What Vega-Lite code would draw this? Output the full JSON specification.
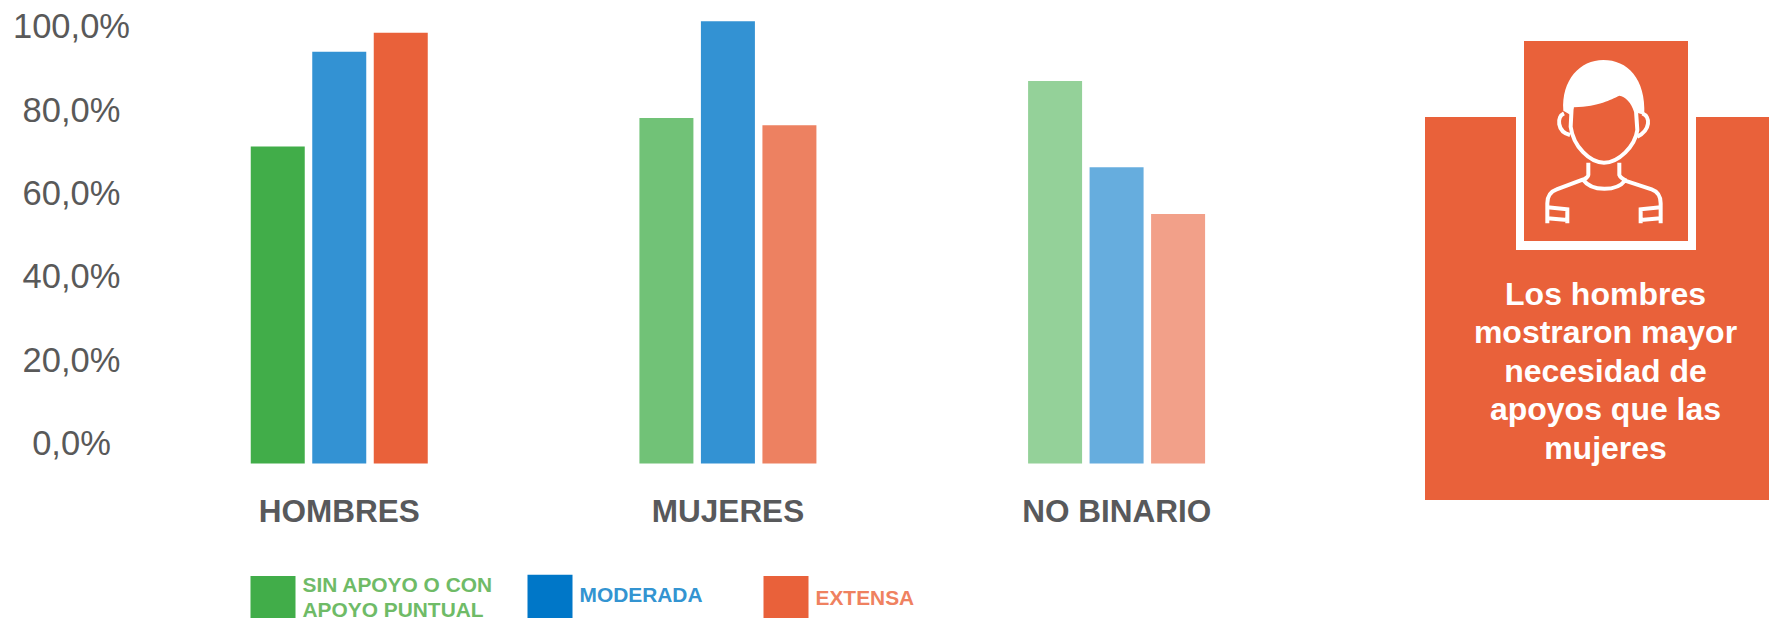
{
  "$schema": "https://vega.github.io/schema/vega-lite/v6.json",
  "width": 1769,
  "height": 618,
  "autosize": {"type": "none"},
  "padding": 0,
  "background": "white",
  "config": {"font": "Liberation Sans", "view": {"stroke": null}},
  "resolve": {"scale": {"y": "independent"}},
  "layer": [
    {
      "data": {"values": [{"valor": 0}, {"valor": 20}, {"valor": 40}, {"valor": 60}, {"valor": 80}, {"valor": 100}]},
      "mark": {"type": "rule", "opacity": 0},
      "encoding": {
        "y": {
          "field": "valor",
          "type": "quantitative",
          "scale": {"domain": [-41.66, 106.7], "nice": false, "zero": false},
          "axis": {
            "title": null,
            "orient": "left",
            "values": [0, 20, 40, 60, 80, 100],
            "domain": false,
            "ticks": false,
            "grid": false,
            "labelAlign": "center",
            "labelBaseline": "middle",
            "labelPadding": -71,
            "labelFontSize": 34.5,
            "labelFontWeight": "normal",
            "labelColor": "#595959",
            "labelExpr": "replace(format(datum.value, '.1f'), '.', ',') + '%'"
          }
        }
      }
    },
    {
      "data": {
        "values": [
          {"genero": "HOMBRES", "nivel": "SIN APOYO O CON APOYO PUNTUAL", "serie": "H1", "valor": 71.7},
          {"genero": "HOMBRES", "nivel": "MODERADA", "serie": "H2", "valor": 93.1},
          {"genero": "HOMBRES", "nivel": "EXTENSA", "serie": "H3", "valor": 97.4},
          {"genero": "MUJERES", "nivel": "SIN APOYO O CON APOYO PUNTUAL", "serie": "M1", "valor": 78.1},
          {"genero": "MUJERES", "nivel": "MODERADA", "serie": "M2", "valor": 100},
          {"genero": "MUJERES", "nivel": "EXTENSA", "serie": "M3", "valor": 76.5},
          {"genero": "NO BINARIO", "nivel": "SIN APOYO O CON APOYO PUNTUAL", "serie": "N1", "valor": 86.5},
          {"genero": "NO BINARIO", "nivel": "MODERADA", "serie": "N2", "valor": 67.0},
          {"genero": "NO BINARIO", "nivel": "EXTENSA", "serie": "N3", "valor": 56.4}
        ]
      },
      "mark": {"type": "bar"},
      "encoding": {
        "x": {
          "field": "genero",
          "type": "nominal",
          "sort": ["HOMBRES", "MUJERES", "NO BINARIO"],
          "scale": {"range": [145, 1311], "paddingInner": 0, "paddingOuter": 0},
          "axis": {
            "title": null,
            "orient": "bottom",
            "offset": -106,
            "domain": false,
            "ticks": false,
            "grid": false,
            "labelAngle": 0,
            "labelBaseline": "middle",
            "labelPadding": 0,
            "labelLimit": 400,
            "labelFontSize": 31.5,
            "labelFontWeight": "bold",
            "labelColor": "#58595B",
            "encode": {
              "labels": {
                "update": {
                  "dx": {"signal": "datum.value == 'MUJERES' ? 5.6 : 0"}
                }
              }
            }
          }
        },
        "xOffset": {
          "field": "nivel",
          "type": "nominal",
          "sort": ["SIN APOYO O CON APOYO PUNTUAL", "MODERADA", "EXTENSA"],
          "scale": {"range": [105.75, 282.75], "paddingInner": 0.122, "paddingOuter": 0}
        },
        "y": {
          "field": "valor",
          "type": "quantitative",
          "scale": {"domain": [-34.9, 104.8], "nice": false, "zero": false},
          "axis": null
        },
        "color": {
          "field": "nivel",
          "type": "nominal",
          "sort": ["SIN APOYO O CON APOYO PUNTUAL", "MODERADA", "EXTENSA"],
          "scale": {
            "domain": ["SIN APOYO O CON APOYO PUNTUAL", "MODERADA", "EXTENSA"],
            "range": ["#41AD49", "#0077C8", "#E9613A"]
          },
          "legend": {
            "title": null,
            "orient": "none",
            "legendX": 250.5,
            "legendY": 576,
            "direction": "horizontal",
            "columns": 3,
            "gridAlign": "each",
            "columnPadding": 34,
            "symbolType": "square",
            "symbolSize": 2025,
            "symbolStrokeWidth": 0,
            "symbolOpacity": 1,
            "labelOffset": 7,
            "labelLimit": 400,
            "labelFontSize": 20.9,
            "labelFontWeight": "bold",
            "labelExpr": "datum.label == 'SIN APOYO O CON APOYO PUNTUAL' ? ['SIN APOYO O CON', 'APOYO PUNTUAL'] : datum.label",
            "labelColor": {"expr": "datum.label == 'MODERADA' ? '#3394D1' : datum.label == 'EXTENSA' ? '#EF8160' : '#6FBB67'"},
            "encoding": {
              "labels": {
                "dy": {"value": {"expr": "datum.value == 'SIN APOYO O CON APOYO PUNTUAL' ? -12.3 : datum.value == 'MODERADA' ? -3.2 : 0.2"}},
                "dx": {"value": {"expr": "datum.value == 'EXTENSA' ? 26 : 0"}},
                "lineHeight": {"value": 24.8}
              },
              "symbols": {
                "x": {"value": {"expr": "datum.value == 'EXTENSA' ? 48.5 : 22.5"}},
                "y": {"value": {"expr": "datum.value == 'MODERADA' ? 20.2 : 22.5"}}
              }
            }
          }
        },
        "opacity": {
          "field": "serie",
          "type": "nominal",
          "scale": {
            "type": "ordinal",
            "domain": ["H1", "H2", "H3", "M1", "M2", "M3", "N1", "N2", "N3"],
            "range": [1, 0.8, 1, 0.75, 0.8, 0.8, 0.56, 0.6, 0.6]
          },
          "legend": null
        }
      }
    },
    {
      "data": {"values": [{"elemento": "panel"}]},
      "mark": {"type": "rect", "x": 1425, "x2": 1769, "y": 117, "y2": 500, "fill": "#E9613A"},
      "encoding": {}
    },
    {
      "data": {"values": [{"elemento": "marco"}]},
      "mark": {"type": "rect", "x": 1516, "x2": 1696, "y": 117, "y2": 250, "fill": "white"},
      "encoding": {}
    },
    {
      "data": {"values": [{"elemento": "retrato"}]},
      "mark": {"type": "rect", "x": 1524, "x2": 1688, "y": 41, "y2": 241, "fill": "#E9613A"},
      "encoding": {}
    },
    {
      "data": {"values": [{"elemento": "pelo"}]},
      "mark": {
        "type": "point",
        "filled": true,
        "fill": "white",
        "opacity": 1,
        "size": 0.4444,
        "shape": "M490,272 C484,180 540,120 610,120 C682,120 738,175 733,285 L702,275 C695,250 675,228 658,227 C630,240 600,258 522,262 L512,285 Z",
        "x": 1400,
        "y": 20
      },
      "encoding": {}
    },
    {
      "data": {"values": [{"elemento": "contorno"}]},
      "mark": {
        "type": "point",
        "filled": false,
        "stroke": "white",
        "strokeWidth": 4,
        "opacity": 1,
        "size": 0.4444,
        "shape": "M515,262 L512,320 C520,380 570,428 612,428 C655,428 705,380 712,330 L708,272 M492,280 C470,290 470,335 510,345 M727,280 C752,290 752,330 712,350 M565,428 L565,465 C565,470 555,478 548,480 M658,428 L658,465 C660,472 672,480 680,482 M550,480 C575,515 650,515 675,482 M550,478 L470,508 C450,515 442,530 442,550 L442,610 M675,482 L755,508 C775,515 782,530 782,550 L782,610 M442,562 L502,568 L502,610 M442,595 L502,600 M782,562 L722,568 L722,610 M782,595 L722,600",
        "x": 1400,
        "y": 20
      },
      "encoding": {}
    },
    {
      "data": {"values": [{"texto": ["Los hombres", "mostraron mayor", "necesidad de", "apoyos que las", "mujeres"]}]},
      "mark": {
        "type": "text",
        "x": 1605.5,
        "y": 294.5,
        "align": "center",
        "baseline": "middle",
        "fontSize": 32,
        "fontWeight": "bold",
        "lineHeight": 38.5,
        "color": "white"
      },
      "encoding": {"text": {"field": "texto"}}
    }
  ]
}
